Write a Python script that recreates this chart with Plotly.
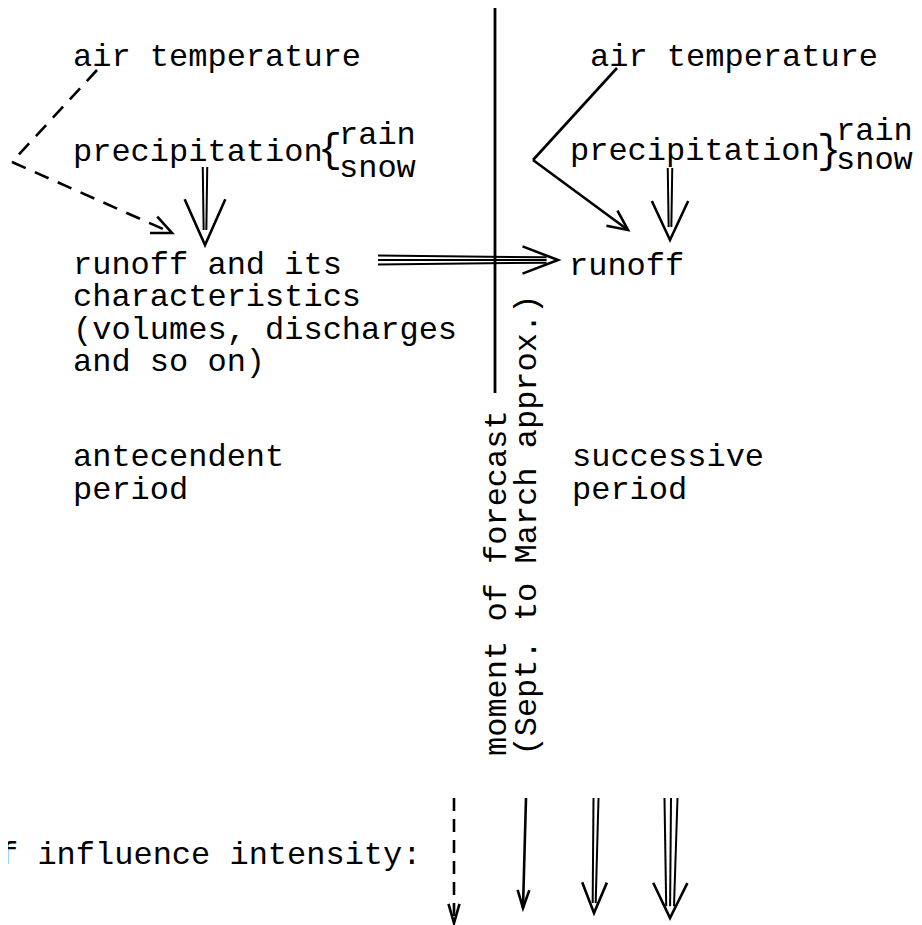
import math
import plotly.graph_objects as go

W, H = 922, 925
PAGE_MARGIN = 8  # default <body> margin of the written html page
FONT = "Liberation Mono, Courier New, monospace"
FSIZE = 32

# ---- text labels (diagram content) ----
label_text = ["air temperature", "precipitation", "rain", "snow",
              "runoff and its", "characteristics", "(volumes, discharges",
              "and so on)", "antecendent", "period",
              "air temperature", "precipitation", "rain", "snow",
              "runoff", "successive", "period"]
label_x = [71, 71, 337, 337, 71, 71, 71, 71, 71, 71,
           588, 568, 834, 834, 567, 570, 570]
label_y = [57, 152, 135, 168, 265, 297, 330, 362, 457, 490,
           57, 151, 131, 160, 266, 457, 490]

brace_text = ["{", "}"]
brace_x = [316, 815]
brace_y = [151, 152]

legend_text = "f influence intensity:"
legend_x_right = 423
legend_y = 855

rot_text = ["moment of forecast", "(Sept. to March approx.)"]
rot_x = [497, 527]
rot_bottom = [758, 758]

divider_x = 495
divider_y = [0, 393]

# ---- connections: polyline points, dash pattern, number of shafts, shaft gap, head length, head half-angle ----
conn_pts = [
    [(97, 70), (12, 162), (172, 233)],
    [(205, 167), (205, 245)],
    [(378, 260), (558, 260)],
    [(617, 68), (533, 160), (628, 230)],
    [(670, 168), (670, 240)],
    [(454, 798), (454, 923)],
    [(526, 798), (523, 908)],
    [(596, 798), (594, 913)],
    [(671, 798), (670, 918)],
]
conn_dash = ["15px,10px", None, None, None, None, "13px,8px", None, None, None]
conn_shafts = [1, 2, 3, 1, 2, 1, 1, 2, 3]
conn_gap = [0, 4.5, 4.5, 0, 4.5, 0, 0, 5, 6.5]
conn_head_len = [22, 50, 38, 22, 43, 20, 19, 33, 39]
conn_head_ang = [24, 24, 21, 25, 25, 16, 18, 22, 26]

LW = 2.6

fig = go.Figure()
fig.add_trace(go.Scatter(x=[], y=[], mode="lines", showlegend=False))

shapes = []


def line_shape(p0, p1, width=LW, dash=None):
    ln = dict(color="black", width=width)
    if dash:
        ln["dash"] = dash
    return dict(type="line", xref="x", yref="y", x0=p0[0], y0=p0[1], x1=p1[0], y1=p1[1], line=ln)


def path_shape(pts, width=LW):
    d = "M " + " L ".join(f"{x:.2f},{y:.2f}" for x, y in pts)
    return dict(type="path", xref="x", yref="y", path=d,
                line=dict(color="black", width=width))


# divider
shapes.append(line_shape((divider_x, divider_y[0]), (divider_x, divider_y[1]), width=2.8))

for pts, dash, ns, gap, hl, ha in zip(conn_pts, conn_dash, conn_shafts, conn_gap,
                                       conn_head_len, conn_head_ang):
    tip = pts[-1]
    prev = pts[-2]
    dx, dy = tip[0] - prev[0], tip[1] - prev[1]
    L = math.hypot(dx, dy)
    ux, uy = dx / L, dy / L
    nx, ny = -uy, ux
    if ns == 1:
        for a, b in zip(pts[:-1], pts[1:]):
            shapes.append(line_shape(a, b, dash=dash))
    else:
        offs = [(i - (ns - 1) / 2) * gap for i in range(ns)]
        end_back = hl * 0.3
        for o in offs:
            a = (prev[0] + nx * o, prev[1] + ny * o)
            b = (tip[0] - ux * end_back + nx * o * 0.6, tip[1] - uy * end_back + ny * o * 0.6)
            shapes.append(line_shape(a, b, width=2.0))
    # open V head
    ang = math.radians(ha)
    bx, by = -ux, -uy
    arm1 = (tip[0] + hl * (bx * math.cos(ang) - by * math.sin(ang)),
            tip[1] + hl * (bx * math.sin(ang) + by * math.cos(ang)))
    arm2 = (tip[0] + hl * (bx * math.cos(-ang) - by * math.sin(-ang)),
            tip[1] + hl * (bx * math.sin(-ang) + by * math.cos(-ang)))
    shapes.append(path_shape([arm1, tip, arm2]))

annotations = []
for t, x, y in zip(label_text, label_x, label_y):
    annotations.append(dict(text=t, x=x, y=y, xref="x", yref="y", xanchor="left",
                            yanchor="middle", showarrow=False,
                            font=dict(family=FONT, size=FSIZE, color="black")))
for t, x, y in zip(brace_text, brace_x, brace_y):
    annotations.append(dict(text=t, x=x, y=y, xref="x", yref="y", xanchor="left",
                            yanchor="middle", showarrow=False,
                            font=dict(family=FONT, size=40, color="black")))
annotations.append(dict(text=legend_text, x=legend_x_right, y=legend_y, xref="x", yref="y",
                        xanchor="right", yanchor="middle", showarrow=False,
                        font=dict(family=FONT, size=FSIZE, color="black")))
for t, x, yb in zip(rot_text, rot_x, rot_bottom):
    annotations.append(dict(text=t, x=x, y=yb, xref="x", yref="y", xanchor="center",
                            yanchor="bottom", textangle=-90, showarrow=False,
                            font=dict(family=FONT, size=FSIZE, color="black")))

fig.update_layout(
    width=W, height=H,
    margin=dict(l=0, r=0, t=0, b=0),
    paper_bgcolor="white", plot_bgcolor="white",
    xaxis=dict(range=[PAGE_MARGIN, W + PAGE_MARGIN], visible=False, fixedrange=True),
    yaxis=dict(range=[H + PAGE_MARGIN, PAGE_MARGIN], visible=False, fixedrange=True),
    shapes=shapes, annotations=annotations, showlegend=False,
)
fig.write_html("out.html")
